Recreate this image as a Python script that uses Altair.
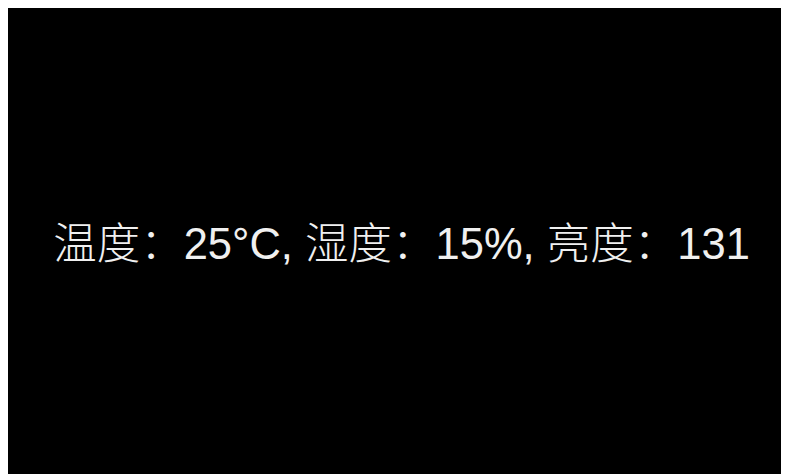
import altair as alt
import pandas as pd

labels = ["温度", "湿度", "亮度"]
values = [25, 15, 131]
units = ["°C", "%", ""]

text = ", ".join(f"{l}：{v}{u}" for l, v, u in zip(labels, values, units))
df = pd.DataFrame({"text": [text]})

chart = (
    alt.Chart(df)
    .mark_text(
        font="Liberation Sans, Arial, Noto Sans CJK SC",
        fontSize=43.5,
        fontWeight=300,
        color="#f0f0f0",
        align="center",
        baseline="middle",
        dx=7,
        dy=5,
    )
    .encode(text="text:N")
    .properties(width=773, height=466, background="black", padding=0)
    .configure_view(stroke=None, fill="black")
)

chart.save("out.html", embed_options={"renderer": "svg", "actions": False})
